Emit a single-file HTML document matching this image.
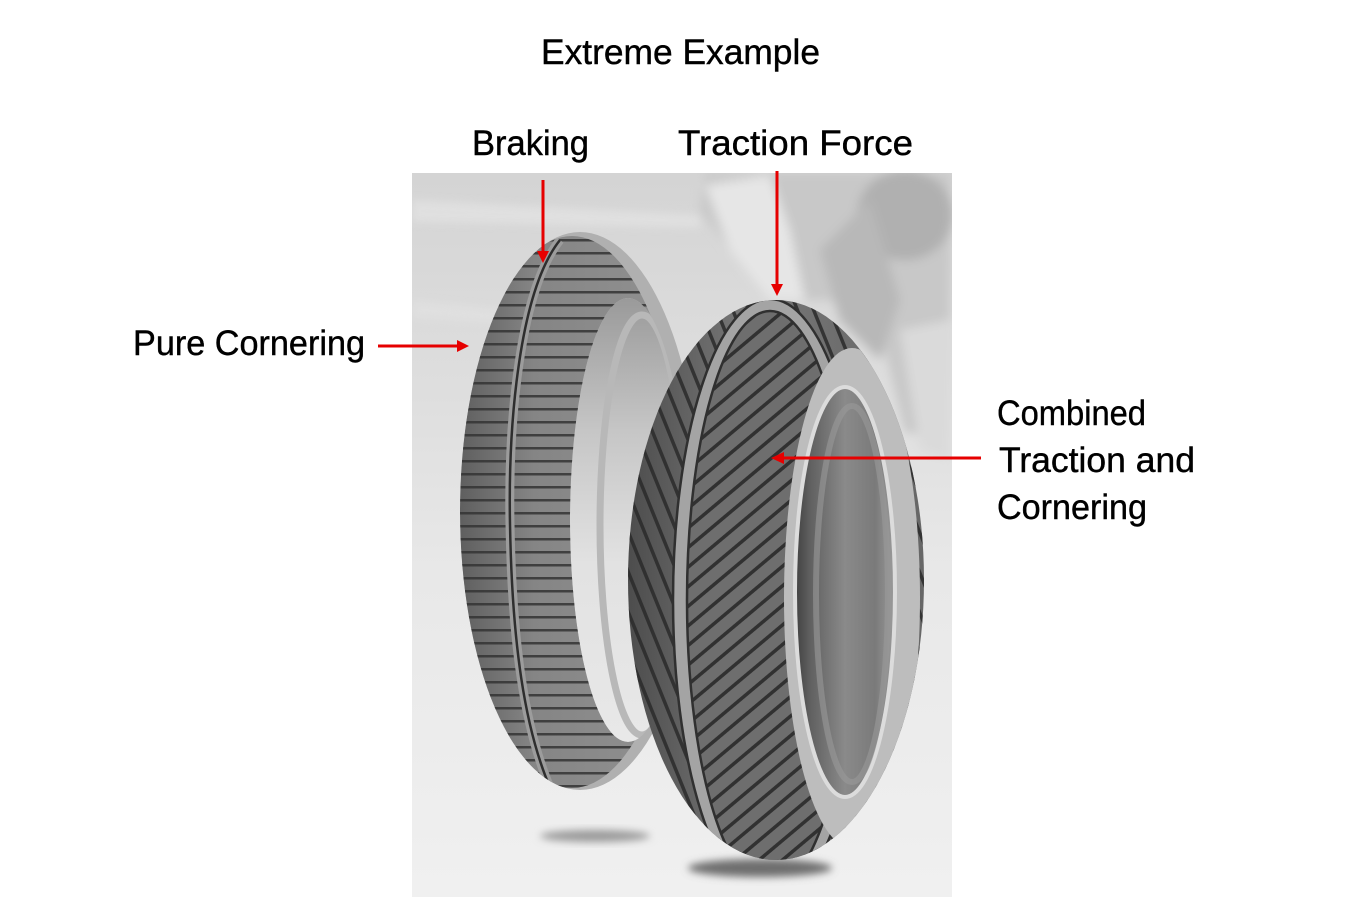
<!DOCTYPE html>
<html><head><meta charset="utf-8"><style>
html,body{margin:0;padding:0;background:#fff;}
svg{display:block;}
</style></head><body>
<svg width="1362" height="908" viewBox="0 0 1362 908" xmlns="http://www.w3.org/2000/svg">
<defs>
  <linearGradient id="bg" x1="0" y1="0" x2="0" y2="1">
    <stop offset="0" stop-color="#d4d4d4"/>
    <stop offset="0.3" stop-color="#dedede"/>
    <stop offset="0.55" stop-color="#e8e8e8"/>
    <stop offset="1" stop-color="#f0f0f0"/>
  </linearGradient>
  <linearGradient id="ftread" x1="0" y1="0" x2="1" y2="0">
    <stop offset="0" stop-color="#5a5a5a"/>
    <stop offset="0.3" stop-color="#858585"/>
    <stop offset="1" stop-color="#969696"/>
  </linearGradient>
  <linearGradient id="fhole" x1="0" y1="0" x2="0" y2="1">
    <stop offset="0" stop-color="#9a9a9a"/>
    <stop offset="0.3" stop-color="#c6c6c6"/>
    <stop offset="0.6" stop-color="#e2e2e2"/>
    <stop offset="1" stop-color="#e8e8e8"/>
  </linearGradient>
  <linearGradient id="rtread" x1="0" y1="0" x2="1" y2="0">
    <stop offset="0" stop-color="#4a4a4a"/>
    <stop offset="0.4" stop-color="#777"/>
    <stop offset="1" stop-color="#666"/>
  </linearGradient>
  <linearGradient id="rhole" x1="0" y1="0" x2="1" y2="0">
    <stop offset="0" stop-color="#404040"/>
    <stop offset="0.15" stop-color="#606060"/>
    <stop offset="0.5" stop-color="#8a8a8a"/>
    <stop offset="0.8" stop-color="#7a7a7a"/>
    <stop offset="1" stop-color="#9c9c9c"/>
  </linearGradient>
  <pattern id="hl" width="20" height="13" patternUnits="userSpaceOnUse">
    <rect x="0" y="5" width="20" height="2.5" fill="#333"/>
  </pattern>
  <pattern id="dR" width="15" height="15" patternUnits="userSpaceOnUse" patternTransform="rotate(-40)">
    <rect x="0" y="5" width="15" height="3.5" fill="#2a2a2a"/>
  </pattern>
  <pattern id="dL" width="15" height="15" patternUnits="userSpaceOnUse" patternTransform="rotate(68)">
    <rect x="0" y="5" width="15" height="3.5" fill="#2a2a2a"/>
  </pattern>
  <clipPath id="photo"><rect x="412" y="173" width="540" height="724"/></clipPath>
  <clipPath id="fring"><path clip-rule="evenodd" d="M460,511 a120,279 0 1,0 240,0 a120,279 0 1,0 -240,0 Z M570,520 a58,222 0 1,0 116,0 a58,222 0 1,0 -116,0 Z"/></clipPath>
  <clipPath id="ftreadc"><ellipse cx="572" cy="512" rx="112" ry="276"/></clipPath>
  <clipPath id="rout"><ellipse cx="776" cy="580" rx="148" ry="280"/></clipPath>
  <clipPath id="rcent"><ellipse cx="770" cy="600" rx="90" ry="295"/></clipPath>
  <filter id="blur" x="-20%" y="-50%" width="140%" height="200%"><feGaussianBlur stdDeviation="4"/></filter>
  <filter id="blur2" x="-20%" y="-20%" width="140%" height="140%"><feGaussianBlur stdDeviation="5"/></filter>
</defs>

<!-- photo background -->
<g clip-path="url(#photo)">
  <rect x="412" y="173" width="540" height="724" fill="url(#bg)"/>
  <path d="M412,200 L700,215 L700,228 L412,222 Z" fill="#e6e6e6" opacity="0.6" filter="url(#blur)"/>
  <path d="M412,300 L600,320 L600,330 L412,318 Z" fill="#e4e4e4" opacity="0.5" filter="url(#blur)"/>
  <!-- rider -->
  <g filter="url(#blur2)">
    <path d="M705,173 L950,173 L950,440 L905,432 L880,330 L830,300 L775,300 L735,255 L700,210 Z" fill="#c8c8c8"/>
    <path d="M705,185 L770,175 L790,230 L805,300 L770,300 L730,250 Z" fill="#e6e6e6"/>
    <ellipse cx="905" cy="215" rx="48" ry="45" fill="#b0b0b0"/>
    <path d="M820,250 L870,200 L900,300 L880,360 L840,320 Z" fill="#b8b8b8"/>
    <path d="M900,330 L950,320 L950,460 L920,450 Z" fill="#dadada"/>
  </g>

  <!-- shadows -->
  <ellipse cx="595" cy="836" rx="55" ry="6" fill="#9a9a9a" filter="url(#blur)"/>
  <ellipse cx="760" cy="868" rx="72" ry="9" fill="#6e6e6e" filter="url(#blur)"/>

  <!-- front tire -->
  <path fill="url(#fhole)" d="M570,520 a58,222 0 1,0 116,0 a58,222 0 1,0 -116,0 Z"/>
  <ellipse cx="642" cy="525" rx="42" ry="210" fill="none" stroke="#b8b8b8" stroke-width="7"/>
  <g clip-path="url(#fring)">
    <rect x="450" y="220" width="280" height="600" fill="#b0b0b0"/>
    <g clip-path="url(#ftreadc)">
      <rect x="450" y="220" width="280" height="600" fill="url(#ftread)"/>
      <rect x="450" y="220" width="280" height="600" fill="url(#hl)" opacity="0.85"/>
      <path d="M560,240 C520,290 508,420 510,524 C512,640 524,730 552,792" fill="none" stroke="#9c9c9c" stroke-width="9"/>
      <path d="M560,240 C520,290 508,420 510,524 C512,640 524,730 552,792" fill="none" stroke="#2e2e2e" stroke-width="2.5"/>
    </g>
  </g>

  <!-- rear tire -->
  <g clip-path="url(#rout)">
    <rect x="620" y="295" width="310" height="570" fill="url(#rtread)"/>
    <rect x="620" y="295" width="310" height="570" fill="url(#dL)" opacity="0.85"/>
    <g clip-path="url(#rcent)">
      <rect x="620" y="295" width="310" height="570" fill="#6e6e6e"/>
      <rect x="620" y="295" width="310" height="570" fill="url(#dR)" opacity="0.9"/>
    </g>
    <ellipse cx="770" cy="600" rx="90" ry="295" fill="none" stroke="#a4a4a4" stroke-width="12"/>
    <ellipse cx="770" cy="600" rx="83" ry="289" fill="none" stroke="#303030" stroke-width="2.5"/>
    <ellipse cx="770" cy="600" rx="97" ry="301" fill="none" stroke="#303030" stroke-width="2.5"/>
    <ellipse cx="852" cy="598" rx="68" ry="250" fill="#bdbdbd"/>
  </g>
  <ellipse cx="845" cy="592" rx="50" ry="205" fill="url(#rhole)" stroke="#dcdcdc" stroke-width="4"/>
  <ellipse cx="852" cy="594" rx="36" ry="188" fill="none" stroke="#9a9a9a" stroke-width="6" opacity="0.6"/>
</g>

<!-- arrows -->
<g fill="#e60000" stroke="none">
  <rect x="541.5" y="180" width="3" height="72"/>
  <polygon points="537,251 549,251 543,263"/>
  <rect x="775.5" y="171" width="3" height="114"/>
  <polygon points="771,284 783,284 777,296"/>
  <rect x="378" y="344.5" width="80" height="3"/>
  <polygon points="457,340 457,352 469,346"/>
  <rect x="783" y="456.5" width="198" height="3"/>
  <polygon points="784,452 784,464 771,458"/>
</g>

<!-- labels -->
<g font-family="'Liberation Sans', 'DejaVu Sans', sans-serif" font-size="35" fill="#000" stroke="#000" stroke-width="0.4">
  <text x="541" y="64" textLength="279" lengthAdjust="spacingAndGlyphs">Extreme Example</text>
  <text x="472" y="155" textLength="117" lengthAdjust="spacingAndGlyphs">Braking</text>
  <text x="678" y="155" textLength="235" lengthAdjust="spacingAndGlyphs">Traction Force</text>
  <text x="133" y="355" textLength="232" lengthAdjust="spacingAndGlyphs">Pure Cornering</text>
  <text x="997" y="425" textLength="149" lengthAdjust="spacingAndGlyphs">Combined</text>
  <text x="999" y="472" textLength="196" lengthAdjust="spacingAndGlyphs">Traction and</text>
  <text x="997" y="519" textLength="150" lengthAdjust="spacingAndGlyphs">Cornering</text>
</g>
</svg>
</body></html>
